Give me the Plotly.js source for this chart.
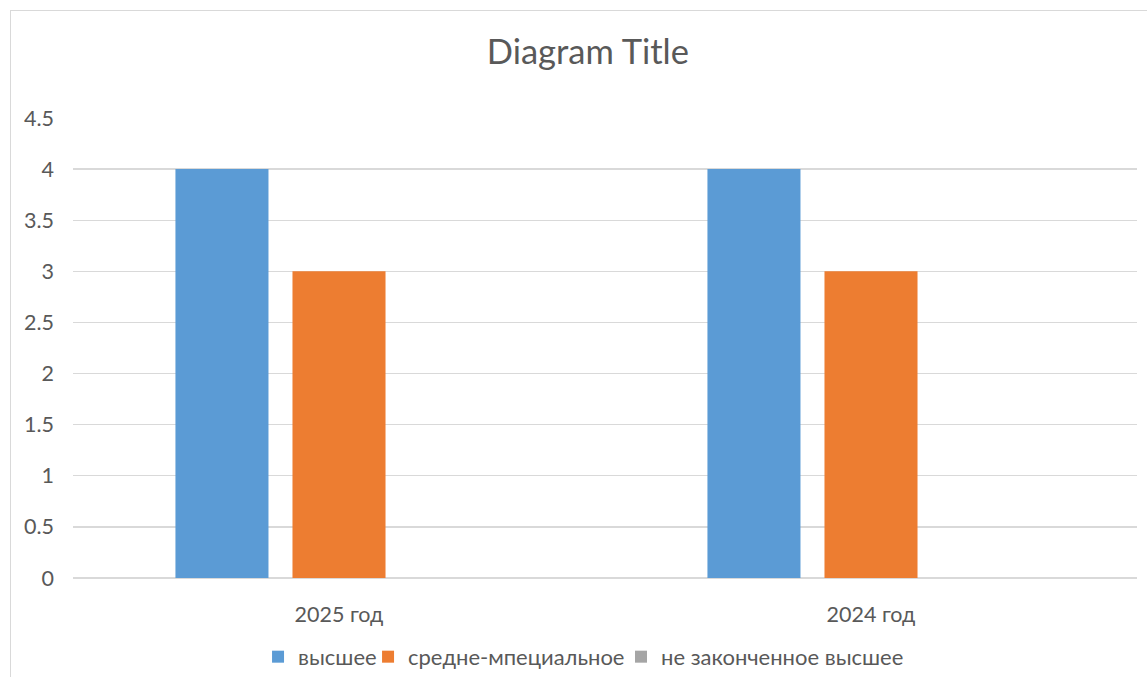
<!DOCTYPE html>
<html>
<head>
<meta charset="utf-8">
<script src="https://cdn.plot.ly/plotly-3.0.1.min.js"></script>
<style>
html,body{margin:0;padding:0;background:#fff;overflow:hidden;width:1147px;height:677px;}
#wrap{position:absolute;left:10px;top:10px;width:1140px;height:670px;border:1px solid #d9d9d9;}
#chart{width:1140px;height:670px;}
</style>
</head>
<body>
<div id="wrap"><div id="chart"></div></div>
<script>
const categories = ["2025 год", "2024 год"];
const seriesNames = ["высшее", "средне-мпециальное", "не законченное высшее"];
const vyshee = [4, 4];
const srednee = [3, 3];
const nezakonch = [0, 0];
const colors = ["#5B9BD5", "#ED7D31", "#A5A5A5"];
const yTicks = [0, 0.5, 1, 1.5, 2, 2.5, 3, 3.5, 4, 4.5];

const legendIds = ["legend", "legend2", "legend3"];
const legendX = [0.2167, 0.3132, 0.5351];

const values = [vyshee, srednee, nezakonch];
const traces = values.map((v, i) => ({
  type: "bar",
  name: seriesNames[i],
  x: categories,
  y: v,
  legend: legendIds[i],
  marker: {color: colors[i], line: {width: 0}},
  hoverinfo: "none"
}));

const font = "Lato, 'Open Sans', sans-serif";
const layout = {
  width: 1140, height: 670,
  margin: {l: 62, r: 14, t: 107, b: 103},
  paper_bgcolor: "#fff", plot_bgcolor: "#fff",
  barmode: "group",
  bargap: 0.34,
  bargroupgap: 0.205,
  font: {family: font, color: "#595959", size: 21.5},
  title: {text: "Diagram Title", font: {family: font, size: 34.5, color: "#595959"},
          x: 0.506, xref: "container", xanchor: "center",
          y: 0.939, yref: "container", yanchor: "middle"},
  xaxis: {type: "category", showgrid: false, zeroline: false, showline: false,
          ticks: "", ticklabelstandoff: 21, tickfont: {size: 21.5, color: "#595959"}},
  yaxis: {range: [0, 4.5], tickvals: yTicks, ticktext: yTicks.map(String),
          showgrid: true, gridcolor: "#d9d9d9", gridwidth: 1.3,
          zeroline: true, zerolinecolor: "#d9d9d9", zerolinewidth: 1.5,
          showline: false, ticks: "", ticklabelstandoff: 18,
          tickfont: {size: 21.5, color: "#595959"}},
  showlegend: true
};
legendIds.forEach((id, i) => {
  layout[id] = {orientation: "h", xref: "container", yref: "container",
    x: legendX[i], xanchor: "left", y: 0.036, yanchor: "middle",
    font: {size: 22, color: "#595959"}, itemwidth: 30, bgcolor: "rgba(0,0,0,0)"};
});
Plotly.newPlot("chart", traces, layout, {displayModeBar: false, staticPlot: true});
</script>
</body>
</html>
